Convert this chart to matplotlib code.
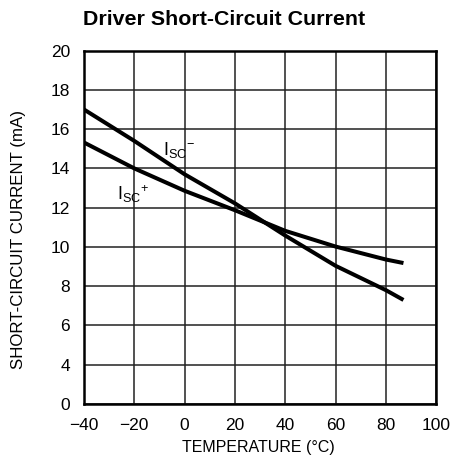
import matplotlib
matplotlib.use("Agg")
import matplotlib.pyplot as plt
from matplotlib import font_manager as fm

# pick a narrow sans if there is one
names = set(f.name for f in fm.fontManager.ttflist)
narrow = "Liberation Sans Narrow" if "Liberation Sans Narrow" in names else "Liberation Sans"
plt.rcParams['font.family'] = [narrow, 'DejaVu Sans']
plt.rcParams['mathtext.fontset'] = 'custom'
plt.rcParams['mathtext.rm'] = narrow

temp = [-40, -20, 0, 20, 40, 60, 80, 87]
isc_minus = [17.0, 15.4, 13.7, 12.22, 10.58, 9.04, 7.8, 7.3]
isc_plus = [15.32, 14.0, 12.86, 11.87, 10.82, 10.02, 9.36, 9.18]

x_ticks = [-40, -20, 0, 20, 40, 60, 80, 100]
x_labels = ["\u221240", "\u221220", "0", "20", "40", "60", "80", "100"]
# bottom gridline is labelled "0" in the original
y_ticks = [2, 4, 6, 8, 10, 12, 14, 16, 18, 20]
y_labels = ["0", "4", "6", "8", "10", "12", "14", "16", "18", "20"]

fig = plt.figure(figsize=(4.64, 4.62), dpi=100)
ax = fig.add_axes([0.181, 0.1255, 0.759, 0.765])

ax.plot(temp, isc_minus, color="black", lw=2.9, solid_capstyle="butt")
ax.plot(temp, isc_plus, color="black", lw=2.9, solid_capstyle="butt")

ax.text(-8.6, 14.69, r"$\mathregular{{I_{SC}}^{-}}$", fontsize=13, va="baseline")
ax.text(-27, 12.4, r"$\mathregular{{I_{SC}}^{+}}$", fontsize=13, va="baseline")

ax.set_xlim(-40, 100)
ax.set_ylim(2, 20)
ax.set_xticks(x_ticks)
ax.set_xticklabels(x_labels)
ax.set_yticks(y_ticks)
ax.set_yticklabels(y_labels)
ax.tick_params(axis="x", length=0, labelsize=12.5, pad=10)
ax.tick_params(axis="y", length=0, labelsize=12.5, pad=10)
ax.grid(True, color="#222222", lw=1.1)
for s in ax.spines.values():
    s.set_linewidth(1.8)

ax.set_xlabel("TEMPERATURE (\u00b0C)", fontsize=11.5)
ax.xaxis.set_label_coords(0.495, -0.103)
ax.set_ylabel("SHORT-CIRCUIT CURRENT (mA)", fontsize=12.2)
ax.yaxis.set_label_coords(-0.165, 0.465)
fig.text(0.483, 0.958, "Driver Short-Circuit Current", ha="center", va="center",
         fontsize=15.4, fontweight="bold")

fig.savefig("out.png", dpi=100)
